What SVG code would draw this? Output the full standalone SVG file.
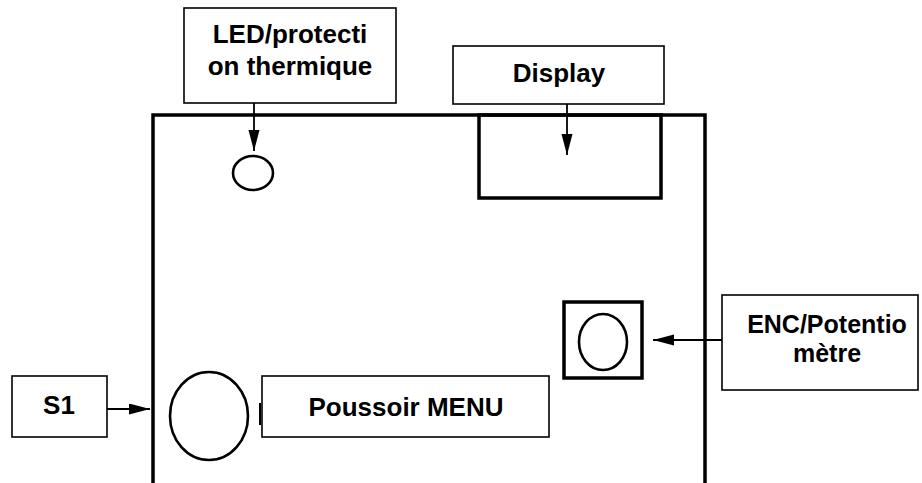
<svg xmlns="http://www.w3.org/2000/svg" width="922" height="483" viewBox="0 0 922 483">
<defs>
<style>
.box{fill:#fff;stroke:#000;stroke-width:1.6}
.thick{fill:none;stroke:#000;stroke-width:3.5}
.mid{fill:none;stroke:#000;stroke-width:2.6}
.lbl{font-family:"Liberation Sans",Arial,sans-serif;font-weight:bold;font-size:26px;fill:#000;text-anchor:middle}
.sm{font-size:25px}
.conn{stroke:#000;stroke-width:1.8;fill:none}
</style>
<marker id="ah" markerUnits="userSpaceOnUse" markerWidth="22" markerHeight="12" refX="21" refY="5.5" orient="auto">
<path d="M0,0 L21,5.5 L0,11 Z" fill="#000"/>
</marker>
</defs>
<rect width="922" height="483" fill="#fff"/>
<g id="panel">
<path class="thick" d="M153,483 V115 H705 V483"/>
</g>
<g id="display-window">
<rect class="thick" x="479" y="115" width="182" height="83"/>
</g>
<g id="led">
<ellipse class="mid" cx="253" cy="173" rx="20" ry="17"/>
</g>
<g id="encoder">
<rect class="thick" x="564" y="302" width="78" height="76"/>
<ellipse class="mid" cx="603" cy="342" rx="24" ry="28"/>
</g>
<g id="s1-button">
<ellipse class="mid" cx="209" cy="416" rx="39" ry="44"/>
<line x1="260" y1="403" x2="260" y2="425" stroke="#000" stroke-width="2"/>
</g>
<g id="label-led">
<rect class="box" x="184" y="8" width="212" height="95"/>
<text class="lbl" x="290" y="43">LED/protecti</text>
<text class="lbl" x="290" y="75">on thermique</text>
</g>
<g id="label-display">
<rect class="box" x="453" y="46" width="211" height="58"/>
<text class="lbl" x="559" y="82">Display</text>
</g>
<g id="label-enc">
<rect class="box" x="722" y="295" width="196" height="95"/>
<text class="lbl sm" x="827" y="333">ENC/Potentio</text>
<text class="lbl sm" x="827" y="362">mètre</text>
</g>
<g id="label-s1">
<rect class="box" x="12" y="376" width="95" height="61"/>
<text class="lbl" x="59" y="414">S1</text>
</g>
<g id="label-menu">
<rect class="box" x="262" y="376" width="287" height="61"/>
<text class="lbl" x="406" y="416">Poussoir MENU</text>
</g>
<g id="connectors">
<line class="conn" x1="254" y1="103" x2="254" y2="151" marker-end="url(#ah)"/>
<line class="conn" x1="567" y1="104" x2="567" y2="155" marker-end="url(#ah)"/>
<line class="conn" x1="722" y1="340" x2="653" y2="340" marker-end="url(#ah)"/>
<line class="conn" x1="107" y1="409" x2="150" y2="409" marker-end="url(#ah)"/>
</g>
</svg>
